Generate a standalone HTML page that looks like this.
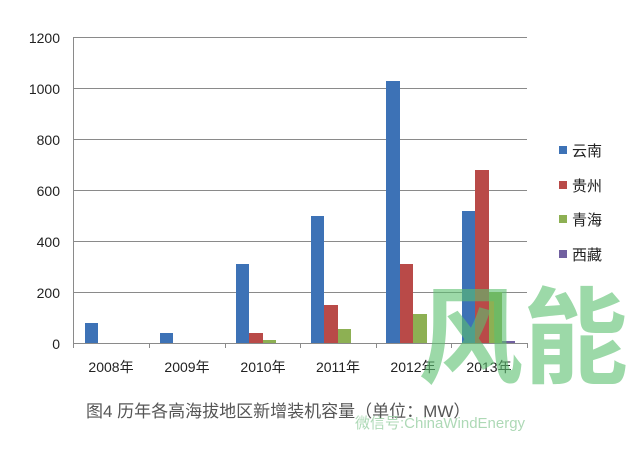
<!DOCTYPE html><html><head><meta charset="utf-8"><style>body{margin:0;background:#fff}</style></head><body>
<svg width="640" height="451" xmlns="http://www.w3.org/2000/svg" font-family="Liberation Sans, Noto Sans CJK SC, sans-serif">
<g stroke="#8a8a8a" stroke-width="1">
<line x1="73" y1="37.5" x2="527" y2="37.5"/><line x1="73" y1="88.5" x2="527" y2="88.5"/><line x1="73" y1="139.5" x2="527" y2="139.5"/><line x1="73" y1="190.5" x2="527" y2="190.5"/><line x1="73" y1="241.5" x2="527" y2="241.5"/><line x1="73" y1="292.5" x2="527" y2="292.5"/>
<line x1="73.5" y1="37" x2="73.5" y2="348"/><line x1="73" y1="343.5" x2="527" y2="343.5"/>
<line x1="149.5" y1="343" x2="149.5" y2="348"/><line x1="225.5" y1="343" x2="225.5" y2="348"/><line x1="300.5" y1="343" x2="300.5" y2="348"/><line x1="376.5" y1="343" x2="376.5" y2="348"/><line x1="451.5" y1="343" x2="451.5" y2="348"/><line x1="527.5" y1="343" x2="527.5" y2="348"/>
</g>
<g font-size="14" fill="#222" text-anchor="end">
<text x="60" y="43">1200</text><text x="60" y="94">1000</text><text x="60" y="145">800</text><text x="60" y="196">600</text><text x="60" y="247">400</text><text x="60" y="298">200</text><text x="60" y="349">0</text></g>
<g fill="#3d72b6"><rect x="85" y="323" width="13" height="20"/><rect x="160" y="333" width="13" height="10"/><rect x="236" y="264" width="13" height="79"/><rect x="311" y="216" width="13" height="127"/><rect x="386" y="81" width="14" height="262"/><rect x="462" y="211" width="13" height="132"/></g>
<g fill="#b94a48"><rect x="249" y="333" width="14" height="10"/><rect x="324" y="305" width="14" height="38"/><rect x="400" y="264" width="13" height="79"/><rect x="475" y="170" width="14" height="173"/></g>
<g fill="#8db053"><rect x="263" y="340" width="13" height="3"/><rect x="338" y="329" width="13" height="14"/><rect x="413" y="314" width="14" height="29"/><rect x="489" y="292" width="13" height="51"/></g>
<rect x="502" y="341" width="13" height="2" fill="#7160a0"/>
<g font-size="14" fill="#222" text-anchor="middle"><text x="111" y="372">2008年</text><text x="187" y="372">2009年</text><text x="263" y="372">2010年</text><text x="338" y="372">2011年</text><text x="413" y="372">2012年</text><text x="489" y="372">2013年</text></g>
<rect x="559" y="146" width="8" height="8" fill="#3d72b6"/><rect x="559" y="181" width="8" height="8" fill="#b94a48"/><rect x="559" y="215" width="8" height="8" fill="#8db053"/><rect x="559" y="250" width="8" height="8" fill="#7160a0"/>
<g font-size="15" fill="#222"><text x="572" y="156">云南</text><text x="572" y="191">贵州</text><text x="572" y="225">青海</text><text x="572" y="260">西藏</text></g>
<text x="86" y="417" font-size="17" fill="#555">图4 历年各高海拔地区新增装机容量（单位：MW）</text>
<text x="418" y="375" font-size="105" font-weight="bold" fill="#5cc070" opacity="0.6" font-family="Noto Sans CJK SC, sans-serif">风能</text>
<text x="355" y="428" font-size="15" fill="#9ad0a5" opacity="0.8">微信号:ChinaWindEnergy</text>
</svg></body></html>
